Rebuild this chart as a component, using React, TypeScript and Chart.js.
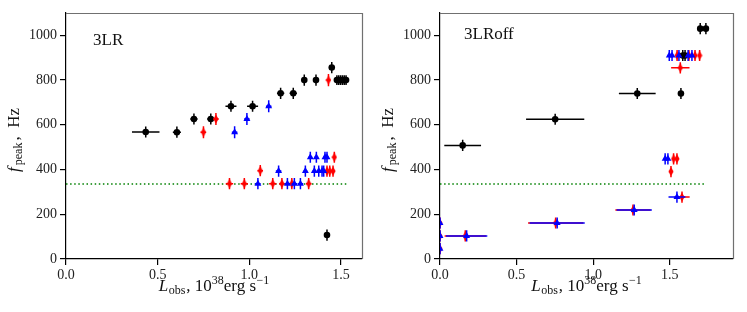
import React, { useEffect, useRef } from 'react';
import { Chart, registerables } from 'chart.js';
Chart.register(...registerables);

// [L_obs, f_peak, xErr, yErr]
type P = [number, number, number, number];

const xTicks = [0, 0.5, 1.0, 1.5];
const yTicks = [0, 200, 400, 600, 800, 1000];
const refFreq = 335;
const panelNames = ['3LR', '3LRoff'];

// ---- 3LR panel ----
const lrBlack: P[] = [
  [0.435, 568, 0.075, 25], [0.605, 567, 0.022, 25], [0.698, 626, 0.02, 25], [0.79, 626, 0.02, 25],
  [0.9, 683, 0.03, 25], [1.018, 683, 0.03, 25], [1.171, 741, 0.02, 25], [1.24, 741, 0.02, 25],
  [1.3, 800, 0.015, 25], [1.364, 800, 0.015, 25], [1.45, 856, 0.01, 25], [1.424, 107, 0.01, 25],
  [1.478, 800, 0.008, 22], [1.488, 800, 0.008, 22], [1.498, 800, 0.008, 22], [1.508, 800, 0.008, 22],
  [1.518, 800, 0.008, 22], [1.528, 800, 0.008, 22],
];
const lrRed: P[] = [
  [0.75, 567, 0.015, 27], [0.818, 626, 0.015, 27], [1.432, 800, 0.012, 27],
  [0.892, 337, 0.02, 25], [0.973, 337, 0.02, 25], [1.06, 395, 0.015, 25], [1.128, 337, 0.02, 25],
  [1.178, 337, 0.015, 25], [1.232, 337, 0.015, 25], [1.324, 337, 0.015, 25],
  [1.424, 393, 0.01, 25], [1.439, 393, 0.01, 25], [1.457, 393, 0.01, 25], [1.464, 455, 0.01, 25],
];
const lrBlue: P[] = [
  [0.92, 567, 0.015, 27], [0.987, 626, 0.015, 27], [1.106, 683, 0.015, 27],
  [1.047, 337, 0.015, 25], [1.16, 393, 0.015, 25], [1.208, 337, 0.015, 25], [1.246, 337, 0.015, 25],
  [1.279, 337, 0.015, 25], [1.306, 393, 0.01, 25], [1.333, 455, 0.01, 25], [1.355, 393, 0.01, 25],
  [1.366, 455, 0.01, 25], [1.379, 393, 0.01, 25], [1.397, 393, 0.01, 25], [1.406, 393, 0.01, 25],
  [1.413, 455, 0.01, 25], [1.424, 455, 0.01, 25],
];
const lrRefEnd = 1.53;

// ---- 3LRoff panel ----
const offBlack: P[] = [
  [0.148, 508, 0.12, 25], [0.752, 625, 0.19, 25], [1.288, 740, 0.12, 25], [1.573, 740, 0.01, 25],
  [1.699, 1030, 0.01, 25], [1.736, 1030, 0.01, 25], [1.585, 910, 0.01, 25], [1.6, 910, 0.01, 25],
];
const offRed: P[] = [
  [1.569, 855, 0.06, 25], [1.548, 910, 0.01, 25], [1.625, 910, 0.01, 25], [1.665, 910, 0.01, 25],
  [1.695, 910, 0.01, 25], [1.525, 448, 0.01, 25], [1.547, 448, 0.01, 25], [1.508, 391, 0.01, 25],
  [1.58, 277, 0.05, 25], [1.26, 219, 0.115, 25], [0.755, 161, 0.18, 25], [0.165, 103, 0.135, 25],
  [0, 161, 0, 25], [0, 103, 0, 25], [0, 46, 0, 25],
];
const offBlue: P[] = [
  [1.497, 910, 0.01, 25], [1.515, 910, 0.01, 25], [1.56, 910, 0.01, 25], [1.62, 910, 0.01, 25],
  [1.645, 910, 0.01, 25], [1.47, 448, 0.01, 25], [1.488, 448, 0.01, 25], [1.547, 277, 0.055, 25],
  [1.268, 219, 0.115, 25], [0.765, 161, 0.18, 25], [0.174, 103, 0.135, 25],
  [0, 161, 0, 25], [0, 103, 0, 25], [0, 46, 0, 25],
];
const offRefEnd = 1.73;

const SERIF = '"Liberation Serif", "Times New Roman", serif';

type Seg = { t: string; size: number; italic?: boolean; dy?: number; gap?: number };

function drawRich(ctx: CanvasRenderingContext2D, segs: Seg[], cx: number, y: number) {
  let total = 0;
  const widths = segs.map((s) => {
    ctx.font = `${s.italic ? 'italic ' : ''}${s.size}px ${SERIF}`;
    const w = ctx.measureText(s.t).width + (s.gap || 0);
    total += w;
    return w;
  });
  let x = cx - total / 2;
  ctx.textAlign = 'left';
  ctx.textBaseline = 'alphabetic';
  segs.forEach((s, i) => {
    ctx.font = `${s.italic ? 'italic ' : ''}${s.size}px ${SERIF}`;
    ctx.fillText(s.t, x, y + (s.dy || 0));
    x += widths[i];
  });
}

const errorBarPlugin = {
  id: 'errbars',
  beforeDatasetDraw(chart: any, args: any) {
    const ds = chart.data.datasets[args.index];
    if (!ds.errors) return;
    const { ctx, chartArea, scales } = chart;
    const xs = scales.x;
    const ys = scales.y;
    ctx.save();
    ctx.beginPath();
    ctx.rect(chartArea.left, chartArea.top, chartArea.right - chartArea.left, chartArea.bottom - chartArea.top);
    ctx.clip();
    ctx.strokeStyle = ds.errColor;
    ctx.lineWidth = 1.5;
    ds.data.forEach((pt: any, i: number) => {
      const [xe, ye] = ds.errors[i];
      const px = xs.getPixelForValue(pt.x);
      const py = ys.getPixelForValue(pt.y);
      ctx.beginPath();
      if (xe > 0) {
        ctx.moveTo(xs.getPixelForValue(pt.x - xe), py);
        ctx.lineTo(xs.getPixelForValue(pt.x + xe), py);
      }
      if (ye > 0) {
        ctx.moveTo(px, ys.getPixelForValue(pt.y - ye));
        ctx.lineTo(px, ys.getPixelForValue(pt.y + ye));
      }
      ctx.stroke();
    });
    ctx.restore();
  },
};

const decorPlugin = {
  id: 'decor',
  afterDraw(chart: any) {
    const { ctx, chartArea } = chart;
    const name = chart.options.plugins.decor.name as string;
    const tdx = chart.options.plugins.decor.tdx as number;
    const tdy = chart.options.plugins.decor.tdy as number;
    ctx.save();
    // top/right frame
    ctx.strokeStyle = '#707070';
    ctx.lineWidth = 1.2;
    ctx.beginPath();
    ctx.moveTo(chartArea.left, chartArea.top + 0.5);
    ctx.lineTo(chartArea.right + 0.5, chartArea.top + 0.5);
    ctx.lineTo(chartArea.right + 0.5, chartArea.bottom);
    ctx.stroke();
    ctx.fillStyle = '#111';
    // panel name
    ctx.font = `17px ${SERIF}`;
    ctx.textAlign = 'left';
    ctx.textBaseline = 'alphabetic';
    ctx.fillText(name, chartArea.left + tdx, chartArea.top + tdy);
    // x label
    const cx = (chartArea.left + chartArea.right) / 2;
    drawRich(
      ctx,
      [
        { t: 'L', size: 17, italic: true, gap: 0.5 },
        { t: 'obs', size: 12, dy: 3, gap: 1 },
        { t: ', 10', size: 17 },
        { t: '38', size: 12, dy: -7 },
        { t: 'erg s', size: 17, gap: 0.5 },
        { t: '\u22121', size: 12, dy: -7 },
      ],
      cx,
      291
    );
    // y label
    ctx.save();
    ctx.translate(19, (chartArea.top + chartArea.bottom) / 2 + 4);
    ctx.rotate(-Math.PI / 2);
    drawRich(
      ctx,
      [
        { t: 'f', size: 17, italic: true, gap: 2 },
        { t: 'peak', size: 12, dy: 3, gap: 2 },
        { t: ',  Hz', size: 17 },
      ],
      0,
      0
    );
    ctx.restore();
    ctx.restore();
  },
};

function makeDiamond(color: string) {
  const c = document.createElement('canvas');
  c.width = 6;
  c.height = 10;
  const g = c.getContext('2d')!;
  g.fillStyle = color;
  g.beginPath();
  g.moveTo(3, 0.5);
  g.lineTo(5.6, 5);
  g.lineTo(3, 9.5);
  g.lineTo(0.4, 5);
  g.closePath();
  g.fill();
  return c;
}

function buildConfig(
  black: P[],
  red: P[],
  blue: P[],
  refEnd: number,
  xMax: number,
  padRight: number,
  name: string,
  tdx: number,
  tdy: number
): any {
  const toPts = (arr: P[]) => arr.map((p) => ({ x: p[0], y: p[1] }));
  const toErr = (arr: P[]) => arr.map((p) => [p[2], p[3]]);
  return {
    type: 'scatter',
    data: {
      datasets: [
        {
          label: 'ref',
          data: [
            { x: 0, y: refFreq },
            { x: refEnd, y: refFreq },
          ],
          showLine: true,
          borderColor: '#008000',
          borderDash: [1.5, 2.6],
          borderWidth: 1.5,
          pointRadius: 0,
          order: 3,
        },
        {
          label: 'black',
          data: toPts(black),
          errors: toErr(black),
          errColor: '#000',
          pointStyle: 'circle',
          pointRadius: 3.3,
          backgroundColor: '#000',
          borderColor: '#000',
          borderWidth: 0,
          clip: 0,
          order: 2,
        },
        {
          label: 'red',
          data: toPts(red),
          errors: toErr(red),
          errColor: '#ff0000',
          pointStyle: makeDiamond('#ff0000'),
          pointRadius: 4,
          backgroundColor: '#ff0000',
          borderColor: '#ff0000',
          borderWidth: 0,
          clip: 0,
          order: 1,
        },
        {
          label: 'blue',
          data: toPts(blue),
          errors: toErr(blue),
          errColor: '#0000ff',
          pointStyle: 'triangle',
          pointRadius: 4,
          backgroundColor: '#0000ff',
          borderColor: '#0000ff',
          borderWidth: 0,
          clip: 0,
          order: 0,
        },
      ],
    },
    options: {
      animation: false,
      responsive: false,
      devicePixelRatio: 1,
      events: [],
      layout: { padding: { left: 0, top: 13, right: padRight, bottom: 0 } },
      plugins: {
        legend: { display: false },
        tooltip: { enabled: false },
        decor: { name, tdx, tdy },
      },
      scales: {
        x: {
          type: 'linear',
          min: 0,
          max: xMax,
          afterBuildTicks: (s: any) => {
            s.ticks = xTicks.map((v) => ({ value: v }));
          },
          afterFit: (s: any) => {
            s.height = 53;
          },
          border: { color: '#000', width: 1.2 },
          grid: { drawOnChartArea: false, tickLength: 6, color: '#000', lineWidth: 1.2 },
          ticks: {
            padding: 2,
            color: '#222',
            font: { family: SERIF, size: 14 },
            callback: (v: any) => Number(v).toFixed(1),
          },
        },
        y: {
          type: 'linear',
          min: 0,
          max: 1100,
          afterBuildTicks: (s: any) => {
            s.ticks = yTicks.map((v) => ({ value: v }));
          },
          afterFit: (s: any) => {
            s.width = 66;
          },
          border: { color: '#000', width: 1.2 },
          grid: { drawOnChartArea: false, tickLength: 6, color: '#000', lineWidth: 1.2 },
          ticks: {
            padding: 3,
            color: '#222',
            font: { family: SERIF, size: 14 },
            callback: (v: any) => String(v),
          },
        },
      },
    },
    plugins: [errorBarPlugin, decorPlugin],
  };
}

export default function App() {
  const leftRef = useRef<HTMLCanvasElement>(null);
  const rightRef = useRef<HTMLCanvasElement>(null);

  useEffect(() => {
    const c1 = new Chart(
      leftRef.current!,
      buildConfig(lrBlack, lrRed, lrBlue, lrRefEnd, 1.615, 12, panelNames[0], 27, 32)
    );
    const c2 = new Chart(
      rightRef.current!,
      buildConfig(offBlack, offRed, offBlue, offRefEnd, 1.913, 14, panelNames[1], 24, 26)
    );
    return () => {
      c1.destroy();
      c2.destroy();
    };
  }, []);

  return (
    <div style={{ position: 'absolute', left: 0, top: 0, width: 747, height: 312, background: '#fff', display: 'flex' }}>
      <canvas ref={leftRef} width={374} height={312} style={{ width: 374, height: 312, display: 'block' }} />
      <canvas ref={rightRef} width={373} height={312} style={{ width: 373, height: 312, display: 'block' }} />
    </div>
  );
}
